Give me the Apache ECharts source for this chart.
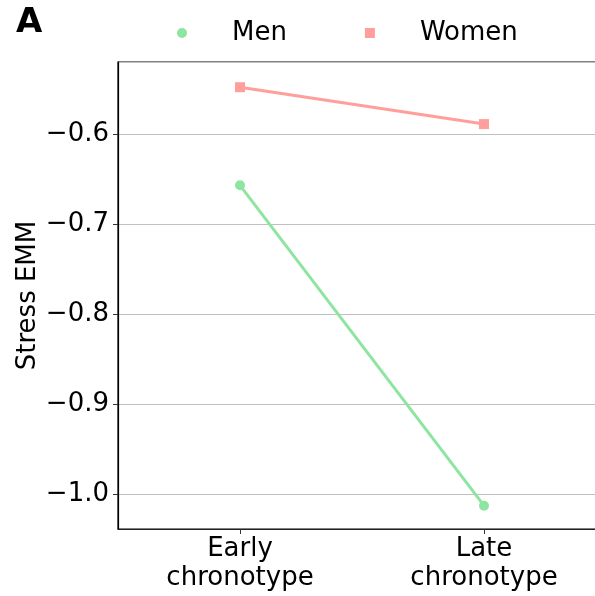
<!DOCTYPE html>
<html>
<head>
<meta charset="utf-8">
<script src="https://cdn.jsdelivr.net/npm/echarts@6/dist/echarts.min.js"></script>
<style>
  html, body { margin: 0; padding: 0; background: #fff; overflow: hidden; }
  #chart { width: 595px; height: 596px; }
</style>
</head>
<body>
<div id="chart"></div>
<script>
// Estimated marginal means of stress by chronotype and sex
const categories = ['Early\nchronotype', 'Late\nchronotype'];
const menValues = [-0.657, -1.013];
const womenValues = [-0.548, -0.589];
const seriesNames = ['Men', 'Women'];
const yMin = -1.0389;
const yMax = -0.52;

const FONT = 'DejaVu Sans';
const FS = 26;
const chart = echarts.init(document.getElementById('chart'), null, { renderer: 'canvas' });

chart.setOption({
  backgroundColor: '#ffffff',
  animation: false,
  textStyle: { fontFamily: FONT },
  graphic: [{
    type: 'text',
    left: 16,
    top: 6,
    style: { text: 'A', font: 'bold 34px "DejaVu Sans"', fill: '#000' }
  }],
  legend: {
    data: [
      { name: seriesNames[0], icon: 'circle' },
      { name: seriesNames[1], icon: 'rect' }
    ],
    left: 172,
    top: 15,
    itemWidth: 10,
    itemHeight: 10,
    itemGap: 78,
    textStyle: { fontFamily: FONT, fontSize: FS, color: '#000', padding: [0, 0, 0, 40] }
  },
  grid: {
    left: 118,
    width: 488,
    top: 62,
    bottom: 67,
    containLabel: false,
    outerBoundsMode: 'none',
    show: true,
    borderColor: '#000',
    borderWidth: 1.2
  },
  xAxis: {
    type: 'category',
    data: categories,
    boundaryGap: true,
    axisLine: { show: true, lineStyle: { color: '#222', width: 1.2 } },
    axisTick: { show: true, alignWithLabel: true, length: 5, lineStyle: { color: '#333' } },
    axisLabel: { color: '#000', fontFamily: FONT, fontSize: FS, lineHeight: 29, margin: 6 },
    splitLine: { show: false }
  },
  yAxis: {
    type: 'value',
    min: yMin,
    max: yMax,
    splitNumber: 5,
    name: 'Stress EMM',
    nameLocation: 'middle',
    nameGap: 77,
    nameMoveOverlap: false,
    nameTextStyle: { color: '#000', fontFamily: FONT, fontSize: FS },
    axisLine: { show: true, lineStyle: { color: '#000', width: 1.2 } },
    axisTick: { show: true, length: 5, lineStyle: { color: '#333' } },
    axisLabel: {
      color: '#000', fontFamily: FONT, fontSize: FS, margin: 9,
      showMinLabel: false, showMaxLabel: false,
      formatter: v => v.toFixed(1).replace('-', '\u2212')
    },
    splitLine: { show: true, lineStyle: { color: '#c0c0c0', width: 1 } }
  },
  series: [
    {
      name: 'Men',
      type: 'line',
      data: menValues,
      symbol: 'circle',
      symbolSize: 10,
      lineStyle: { color: '#8de5a1', width: 3 },
      itemStyle: { color: '#8de5a1' }
    },
    {
      name: 'Women',
      type: 'line',
      data: womenValues,
      symbol: 'rect',
      symbolSize: 10,
      lineStyle: { color: '#ff9f9b', width: 3 },
      itemStyle: { color: '#ff9f9b' }
    }
  ]
});
</script>
</body>
</html>
